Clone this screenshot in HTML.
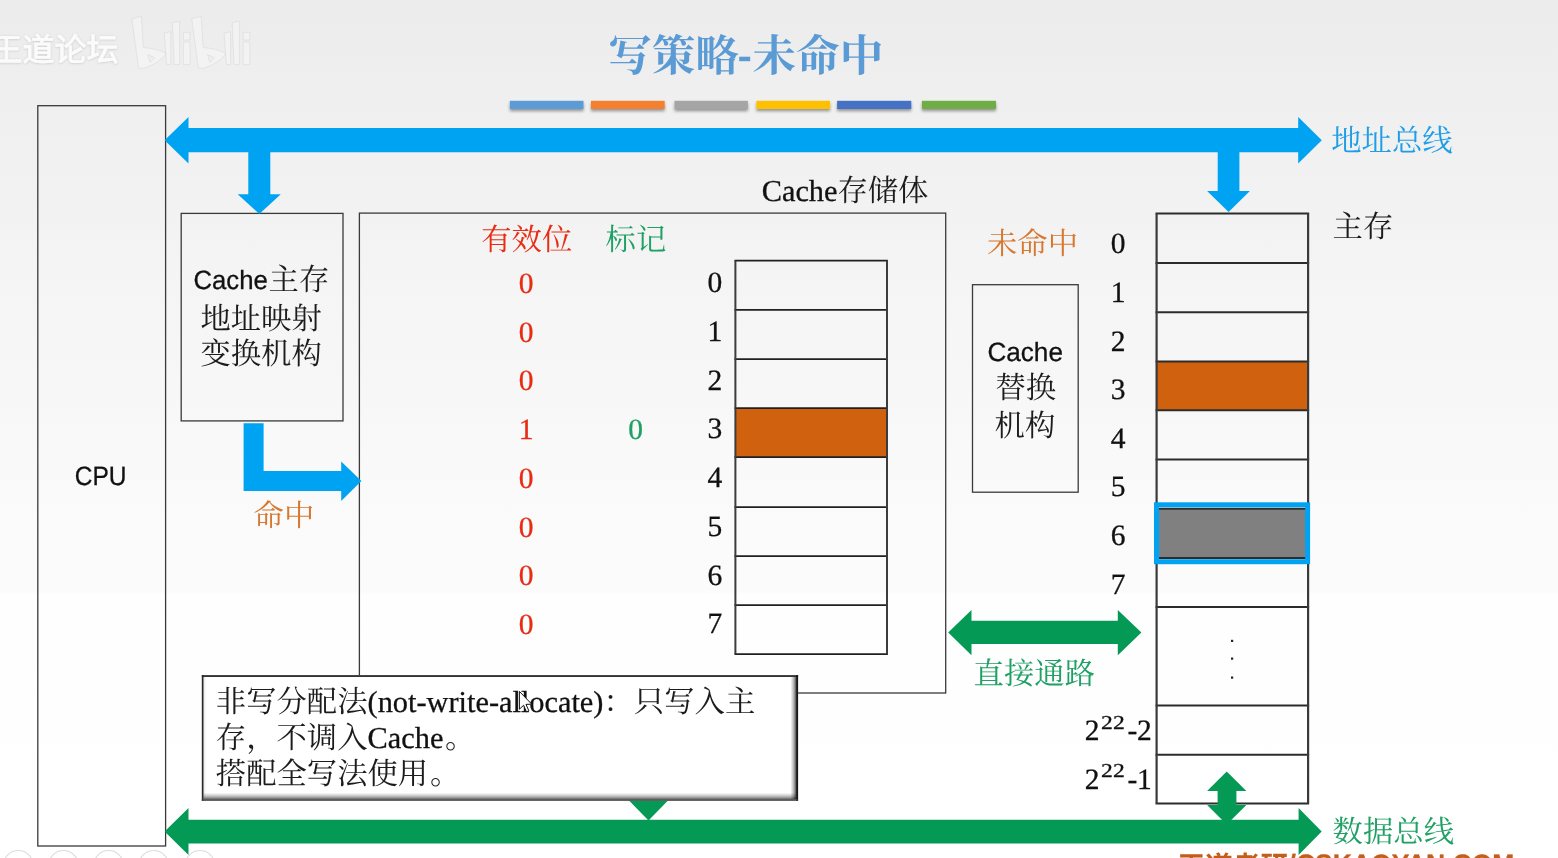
<!DOCTYPE html>
<html lang="zh"><head><meta charset="utf-8"><title>写策略-未命中</title><style>
html,body{margin:0;padding:0}
body{width:1558px;height:858px;overflow:hidden;position:relative;
background:linear-gradient(180deg,#ebebeb 0px,#ececec 15px,#eeeeee 60px,#f0f0f0 125px,#f3f3f3 235px,#f5f5f5 290px,#f7f7f7 385px,#f9f9f9 450px,#fbfbfb 545px,#fbfbfb 591px,#fefefe 594px,#ffffff 858px);
font-family:"Liberation Serif",serif;text-rendering:geometricPrecision}
svg{position:absolute;left:0;top:0}
#L{position:absolute;left:0;top:0;width:1558px;height:858px;overflow:hidden;filter:blur(.45px)}
text{stroke-width:.3px;white-space:pre;text-rendering:geometricPrecision}
.s{font-family:"Liberation Serif",serif;text-rendering:geometricPrecision}
.a{font-family:"Liberation Sans",sans-serif}
.c{font-family:"Liberation Serif","Noto Serif CJK SC",serif;text-rendering:geometricPrecision}
.g{font-family:"Liberation Sans","Noto Sans CJK SC",sans-serif}
.h{position:absolute;line-height:1;white-space:pre;color:transparent;font-family:"Liberation Serif",serif;text-rendering:geometricPrecision}
</style></head>
<body>
<div id="L">
<svg width="1558" height="858" viewBox="0 0 1558 858">
<defs>
<filter id="sh" x="-10%" y="-50%" width="120%" height="250%"><feDropShadow dx="0" dy="2.2" stdDeviation="1.4" flood-color="#000" flood-opacity=".38"/></filter>
<filter id="wm" x="-5%" y="-20%" width="110%" height="140%"><feDropShadow dx="0" dy="0.5" stdDeviation="1.2" flood-color="#000" flood-opacity=".16"/></filter>
<linearGradient id="bevB" x1="0" y1="0" x2="0" y2="1"><stop offset="0" stop-color="#000" stop-opacity="0"/><stop offset=".947" stop-color="#000" stop-opacity="0"/><stop offset=".975" stop-color="#000" stop-opacity=".25"/><stop offset="1" stop-color="#000" stop-opacity=".6"/></linearGradient>
<linearGradient id="bevR" x1="0" y1="0" x2="1" y2="0"><stop offset="0" stop-color="#000" stop-opacity=".10"/><stop offset=".005" stop-color="#000" stop-opacity="0"/><stop offset=".9905" stop-color="#000" stop-opacity="0"/><stop offset=".996" stop-color="#000" stop-opacity=".3"/><stop offset="1" stop-color="#000" stop-opacity=".7"/></linearGradient>
</defs>
<text x="608.20" y="70.60" class="c" font-size="43.6" font-weight="bold" fill="#5B9BD5">写策略</text>
<rect x="739.2" y="56.7" width="11.0" height="4.5" fill="#5B9BD5"/>
<text x="752.60" y="70.60" class="c" font-size="43.6" font-weight="bold" fill="#5B9BD5">未命中</text>
<rect x="509.8" y="100.8" width="73.7" height="8.2" fill="#5B9BD5" filter="url(#sh)"/>
<rect x="591.0" y="100.8" width="73.7" height="8.2" fill="#F3802F" filter="url(#sh)"/>
<rect x="674.5" y="100.8" width="73.4" height="8.2" fill="#A5A5A5" filter="url(#sh)"/>
<rect x="756.4" y="100.8" width="73.7" height="8.2" fill="#FFC000" filter="url(#sh)"/>
<rect x="837.1" y="100.8" width="74.2" height="8.2" fill="#4472C4" filter="url(#sh)"/>
<rect x="921.9" y="100.8" width="74.1" height="8.2" fill="#70AD47" filter="url(#sh)"/>
<g filter="url(#wm)">
<text x="-9.40" y="61.00" class="g" font-size="32" fill="#fbfbfb" stroke="#fbfbfb" style="stroke-width:.7px">王道论坛</text>
</g>
<path d="M131.9 18.6 L141.4 16.4 L143.4 47.6 Q157.0 48.4 166.4 53.6 Q159.0 63.4 144.0 68.2 L138.6 68.2 Z M147.6 54.6 L154.6 57.6 L150.2 62.4 Z M164.2 33.2 L170.8 31.6 L170.8 64.6 L166.6 64.6 Z M172.4 22.6 L179.6 21.2 L179.6 64.6 L174.2 64.6 Z M183.4 32.4 H190.0 V40 H183.4 Z M183.4 42 H190.0 V64.6 H183.4 Z M191.7 18.6 L201.2 16.4 L203.2 47.6 Q216.8 48.4 226.2 53.6 Q218.8 63.4 203.8 68.2 L198.4 68.2 Z M207.4 54.6 L214.4 57.6 L210.0 62.4 Z M224.0 33.2 L230.6 31.6 L230.6 64.6 L226.4 64.6 Z M232.2 22.6 L239.4 21.2 L239.4 64.6 L234.0 64.6 Z M243.2 32.4 H249.8 V40 H243.2 Z M243.2 42 H249.8 V64.6 H243.2 Z" fill="#ffffff" fill-opacity=".30" fill-rule="evenodd" stroke="#d2d2d2" stroke-opacity=".75" stroke-width=".6"/>
<rect x="37.80" y="105.70" width="127.80" height="740.30" fill="none" stroke="#3a3a3a" stroke-width="1.30" />
<rect x="181.20" y="213.40" width="161.80" height="207.50" fill="none" stroke="#3a3a3a" stroke-width="1.30" />
<rect x="359.40" y="213.10" width="586.30" height="479.90" fill="none" stroke="#3a3a3a" stroke-width="1.30" />
<rect x="972.50" y="284.70" width="105.70" height="207.50" fill="none" stroke="#3a3a3a" stroke-width="1.30" />
<polygon fill="#049A55" points="627.5,799.0 669.5,799.0 648.5,820.6"/>
<rect x="735.4" y="408.0" width="151.6" height="49.1" fill="#CF610F"/>
<line x1="734.50" y1="260.60" x2="887.90" y2="260.60" stroke="#202020" stroke-width="1.80"/>
<line x1="734.50" y1="309.80" x2="887.90" y2="309.80" stroke="#202020" stroke-width="1.80"/>
<line x1="734.50" y1="359.20" x2="887.90" y2="359.20" stroke="#202020" stroke-width="1.80"/>
<line x1="734.50" y1="408.10" x2="887.90" y2="408.10" stroke="#202020" stroke-width="1.80"/>
<line x1="734.50" y1="457.20" x2="887.90" y2="457.20" stroke="#202020" stroke-width="1.80"/>
<line x1="734.50" y1="507.10" x2="887.90" y2="507.10" stroke="#202020" stroke-width="1.80"/>
<line x1="734.50" y1="556.10" x2="887.90" y2="556.10" stroke="#202020" stroke-width="1.80"/>
<line x1="734.50" y1="605.10" x2="887.90" y2="605.10" stroke="#202020" stroke-width="1.80"/>
<line x1="734.50" y1="654.20" x2="887.90" y2="654.20" stroke="#202020" stroke-width="1.80"/>
<line x1="735.40" y1="260.50" x2="735.40" y2="654.10" stroke="#3c3c3c" stroke-width="2.00"/>
<line x1="887.00" y1="260.50" x2="887.00" y2="654.10" stroke="#3c3c3c" stroke-width="2.00"/>
<rect x="1156.6" y="361.2" width="151.5" height="48.8" fill="#CF610F"/>
<rect x="1156.6" y="508.6" width="151.5" height="49.3" fill="#808080"/>
<line x1="1155.60" y1="213.50" x2="1309.10" y2="213.50" stroke="#2c2c2c" stroke-width="2.00"/>
<line x1="1155.60" y1="262.90" x2="1309.10" y2="262.90" stroke="#2c2c2c" stroke-width="2.00"/>
<line x1="1155.60" y1="312.20" x2="1309.10" y2="312.20" stroke="#2c2c2c" stroke-width="2.00"/>
<line x1="1155.60" y1="361.40" x2="1309.10" y2="361.40" stroke="#2c2c2c" stroke-width="2.00"/>
<line x1="1155.60" y1="410.20" x2="1309.10" y2="410.20" stroke="#2c2c2c" stroke-width="2.00"/>
<line x1="1155.60" y1="459.60" x2="1309.10" y2="459.60" stroke="#2c2c2c" stroke-width="2.00"/>
<line x1="1155.60" y1="508.80" x2="1309.10" y2="508.80" stroke="#2c2c2c" stroke-width="2.00"/>
<line x1="1155.60" y1="558.10" x2="1309.10" y2="558.10" stroke="#2c2c2c" stroke-width="2.00"/>
<line x1="1155.60" y1="607.00" x2="1309.10" y2="607.00" stroke="#2c2c2c" stroke-width="2.00"/>
<line x1="1155.60" y1="705.40" x2="1309.10" y2="705.40" stroke="#2c2c2c" stroke-width="2.00"/>
<line x1="1155.60" y1="754.80" x2="1309.10" y2="754.80" stroke="#2c2c2c" stroke-width="2.00"/>
<line x1="1155.60" y1="803.60" x2="1309.10" y2="803.60" stroke="#2c2c2c" stroke-width="2.00"/>
<line x1="1156.60" y1="213.30" x2="1156.60" y2="803.40" stroke="#3a3a3a" stroke-width="2.20"/>
<line x1="1308.10" y1="213.30" x2="1308.10" y2="803.40" stroke="#3a3a3a" stroke-width="2.20"/>
<rect x="1156.50" y="504.80" width="151.10" height="56.90" fill="none" stroke="#00A2F2" stroke-width="5.00" />
<rect x="1231.0" y="639.8" width="2.2" height="2.2" fill="#222"/>
<rect x="1231.0" y="657.5" width="2.2" height="2.2" fill="#222"/>
<rect x="1231.0" y="676.5" width="2.2" height="2.2" fill="#222"/>
<polygon fill="#00A2F2" points="164.6,140.2 188.5,117.0 188.5,128.1 1298.2,128.1 1298.2,117.0 1321.8,140.2 1298.2,163.5 1298.2,152.2 188.5,152.2 188.5,163.5"/>
<polygon fill="#00A2F2" points="248.3,150.0 270.3,150.0 270.3,194.2 280.8,194.2 259.3,214.0 237.7,194.2 248.3,194.2"/>
<polygon fill="#00A2F2" points="1217.7,150.0 1239.4,150.0 1239.4,190.9 1249.9,190.9 1228.6,211.9 1207.1,190.9 1217.7,190.9"/>
<polygon fill="#00A2F2" points="243.6,423.3 263.6,423.3 263.6,470.9 341.2,470.9 341.2,461.6 361.4,481.1 341.2,500.9 341.2,491.1 243.6,491.1"/>
<polygon fill="#049A55" points="948.2,632.5 971.5,610.0 971.5,620.8 1117.8,620.8 1117.8,610.0 1141.4,632.5 1117.8,655.2 1117.8,644.0 971.5,644.0 971.5,655.2"/>
<polygon fill="#049A55" points="164.6,831.4 188.5,807.9 188.5,819.7 1298.6,819.7 1298.6,807.9 1321.7,831.4 1298.6,855.0 1298.6,843.5 188.5,843.5 188.5,855.0"/>
<polygon fill="#049A55" points="1226.7,771.6 1246.4,790.9 1236.4,790.9 1236.4,804.9 1246.4,804.9 1226.7,824.5 1207.1,804.9 1217.6,804.9 1217.6,790.9 1207.1,790.9"/>
<text x="1331.20" y="151.10" class="c" font-size="30.35" fill="#1E9EE6">地址总线</text>
<text x="1332.60" y="841.90" class="c" font-size="30.35" fill="#1FA064">数据总线</text>
<text x="1332.60" y="237.20" class="c" font-size="30.35" fill="#1c1c1c">主存</text>
<text x="481.20" y="250.40" class="c" font-size="30.35" fill="#E82C14">有效位</text>
<text x="605.60" y="250.40" class="c" font-size="30.35" fill="#1FA064">标记</text>
<text x="987.00" y="253.80" class="c" font-size="30.35" fill="#D67830">未命中</text>
<text x="253.60" y="526.40" class="c" font-size="30.35" fill="#D67830">命中</text>
<text x="973.60" y="684.20" class="c" font-size="30.35" fill="#1FA064">直接通路</text>
<text x="761.70" y="200.70" class="s" font-size="30.35" fill="#111" stroke="#111">Cache</text>
<text x="837.40" y="201.40" class="c" font-size="30.35" fill="#1c1c1c">存储体</text>
<text transform="translate(193.40 289.20) scale(0.975 1)" class="a" font-size="26.40" fill="#111" stroke="#111">Cache</text>
<text x="268.60" y="290.40" class="c" font-size="30.35" fill="#1c1c1c">主存</text>
<text x="200.40" y="329.20" class="c" font-size="30.35" fill="#1c1c1c">地址映射</text>
<text x="200.40" y="364.20" class="c" font-size="30.35" fill="#1c1c1c">变换机构</text>
<text transform="translate(74.70 485.40) scale(0.930 1)" class="a" font-size="26.40" fill="#111" stroke="#111">CPU</text>
<text transform="translate(987.40 360.70) scale(0.990 1)" class="a" font-size="26.40" fill="#111" stroke="#111">Cache</text>
<text x="995.40" y="398.00" class="c" font-size="30.35" fill="#1c1c1c">替换</text>
<text x="994.60" y="435.60" class="c" font-size="30.35" fill="#1c1c1c">机构</text>
<text x="714.90" y="292.20" class="s" font-size="29.50" fill="#111" stroke="#111" text-anchor="middle">0</text>
<text x="1118.20" y="253.20" class="s" font-size="29.50" fill="#111" stroke="#111" text-anchor="middle">0</text>
<text x="526.00" y="293.00" class="s" font-size="29.50" fill="#E82C14" stroke="#E82C14" text-anchor="middle">0</text>
<text x="714.90" y="340.92" class="s" font-size="29.50" fill="#111" stroke="#111" text-anchor="middle">1</text>
<text x="1118.20" y="301.85" class="s" font-size="29.50" fill="#111" stroke="#111" text-anchor="middle">1</text>
<text x="526.00" y="341.72" class="s" font-size="29.50" fill="#E82C14" stroke="#E82C14" text-anchor="middle">0</text>
<text x="714.90" y="389.64" class="s" font-size="29.50" fill="#111" stroke="#111" text-anchor="middle">2</text>
<text x="1118.20" y="350.50" class="s" font-size="29.50" fill="#111" stroke="#111" text-anchor="middle">2</text>
<text x="526.00" y="390.44" class="s" font-size="29.50" fill="#E82C14" stroke="#E82C14" text-anchor="middle">0</text>
<text x="714.90" y="438.36" class="s" font-size="29.50" fill="#111" stroke="#111" text-anchor="middle">3</text>
<text x="1118.20" y="399.15" class="s" font-size="29.50" fill="#111" stroke="#111" text-anchor="middle">3</text>
<text x="526.00" y="439.16" class="s" font-size="29.50" fill="#E82C14" stroke="#E82C14" text-anchor="middle">1</text>
<text x="714.90" y="487.08" class="s" font-size="29.50" fill="#111" stroke="#111" text-anchor="middle">4</text>
<text x="1118.20" y="447.80" class="s" font-size="29.50" fill="#111" stroke="#111" text-anchor="middle">4</text>
<text x="526.00" y="487.88" class="s" font-size="29.50" fill="#E82C14" stroke="#E82C14" text-anchor="middle">0</text>
<text x="714.90" y="535.80" class="s" font-size="29.50" fill="#111" stroke="#111" text-anchor="middle">5</text>
<text x="1118.20" y="496.45" class="s" font-size="29.50" fill="#111" stroke="#111" text-anchor="middle">5</text>
<text x="526.00" y="536.60" class="s" font-size="29.50" fill="#E82C14" stroke="#E82C14" text-anchor="middle">0</text>
<text x="714.90" y="584.52" class="s" font-size="29.50" fill="#111" stroke="#111" text-anchor="middle">6</text>
<text x="1118.20" y="545.10" class="s" font-size="29.50" fill="#111" stroke="#111" text-anchor="middle">6</text>
<text x="526.00" y="585.32" class="s" font-size="29.50" fill="#E82C14" stroke="#E82C14" text-anchor="middle">0</text>
<text x="714.90" y="633.24" class="s" font-size="29.50" fill="#111" stroke="#111" text-anchor="middle">7</text>
<text x="1118.20" y="593.75" class="s" font-size="29.50" fill="#111" stroke="#111" text-anchor="middle">7</text>
<text x="526.00" y="634.04" class="s" font-size="29.50" fill="#E82C14" stroke="#E82C14" text-anchor="middle">0</text>
<text x="635.60" y="439.40" class="s" font-size="29.50" fill="#1FA064" stroke="#1FA064" text-anchor="middle">0</text>
<text x="1084.70" y="740.20" class="s" font-size="29.50" fill="#111" stroke="#111">2</text>
<text transform="translate(1100.90 728.70) scale(1.200 1)" class="s" font-size="19.70" fill="#111" stroke="#111" letter-spacing=".25">22</text>
<text x="1127.40" y="740.20" class="s" font-size="29.50" fill="#111" stroke="#111">-</text>
<text x="1137.10" y="740.20" class="s" font-size="29.50" fill="#111" stroke="#111">2</text>
<text x="1084.70" y="788.70" class="s" font-size="29.50" fill="#111" stroke="#111">2</text>
<text transform="translate(1100.90 777.20) scale(1.200 1)" class="s" font-size="19.70" fill="#111" stroke="#111" letter-spacing=".25">22</text>
<text x="1127.40" y="788.70" class="s" font-size="29.50" fill="#111" stroke="#111">-</text>
<text x="1137.10" y="788.70" class="s" font-size="29.50" fill="#111" stroke="#111">1</text>
<rect x="201.8" y="675.1" width="596.3" height="125.7" fill="#fff"/>
<rect x="203.4" y="676.9" width="592.8" height="122.4" fill="url(#bevB)"/>
<rect x="203.4" y="676.9" width="592.8" height="122.4" fill="url(#bevR)"/>
<rect x="201.8" y="675.1" width="596.3" height="1.9" fill="#333"/>
<rect x="201.8" y="675.1" width="1.7" height="125.7" fill="#2a2a2a"/>
<rect x="796.1" y="675.1" width="2.0" height="125.7" fill="#161616"/>
<rect x="201.8" y="799.2" width="596.3" height="1.6" fill="#404040"/>
<text x="215.80" y="712.40" class="c" font-size="30.35" fill="#1c1c1c">非写分配法</text>
<text x="367.55" y="712.40" class="s" font-size="30.35" fill="#111" stroke="#111">(not-write-allocate)</text>
<text x="603.52" y="712.40" class="c" font-size="30.35" fill="#1c1c1c">：只写入主</text>
<text x="215.80" y="748.40" class="c" font-size="30.35" fill="#1c1c1c">存，不调入</text>
<text x="367.55" y="748.40" class="s" font-size="30.35" fill="#111" stroke="#111">Cache</text>
<text x="445.03" y="748.40" class="c" font-size="30.35" fill="#1c1c1c">。</text>
<text x="215.80" y="784.20" class="c" font-size="30.35" fill="#1c1c1c">搭配全写法使用</text>
<text x="430.05" y="784.20" class="c" font-size="30.35" fill="#1c1c1c">。</text>
<text x="1177.40" y="876.30" class="g" font-size="27.7" font-weight="bold" fill="#C25E1A">王道考研</text>
<text x="1288.60" y="872.50" class="a" font-size="26.50" fill="#C25E1A" stroke="#C25E1A" font-weight="bold">/CSKAOYAN.COM</text>
<circle cx="18.3" cy="865.2" r="14.7" fill="none" stroke="#dcdcdc" stroke-width="1.2"/>
<circle cx="63.5" cy="865.2" r="14.7" fill="none" stroke="#dcdcdc" stroke-width="1.2"/>
<circle cx="108.6" cy="865.2" r="14.7" fill="none" stroke="#dcdcdc" stroke-width="1.2"/>
<circle cx="153.7" cy="865.2" r="14.7" fill="none" stroke="#dcdcdc" stroke-width="1.2"/>
<circle cx="200.0" cy="865.2" r="14.7" fill="none" stroke="#dcdcdc" stroke-width="1.2"/>
</svg>
<div class="h" style="left:608.2px;top:32.2px;font-size:43.6px">写策略</div>
<div class="h" style="left:739.0px;top:32px;font-size:43px">-</div>
<div class="h" style="left:752.6px;top:32.2px;font-size:43.6px">未命中</div>
<div class="h" style="left:-9.4px;top:32.8px;font-size:32.0px">王道论坛</div>
<div class="h" style="left:1331.2px;top:124.4px;font-size:30.4px">地址总线</div>
<div class="h" style="left:1332.6px;top:815.2px;font-size:30.4px">数据总线</div>
<div class="h" style="left:1332.6px;top:210.5px;font-size:30.4px">主存</div>
<div class="h" style="left:481.2px;top:223.7px;font-size:30.4px">有效位</div>
<div class="h" style="left:605.6px;top:223.7px;font-size:30.4px">标记</div>
<div class="h" style="left:987.0px;top:227.1px;font-size:30.4px">未命中</div>
<div class="h" style="left:253.6px;top:499.7px;font-size:30.4px">命中</div>
<div class="h" style="left:973.6px;top:657.5px;font-size:30.4px">直接通路</div>
<div class="h" style="left:837.4px;top:174.7px;font-size:30.4px">存储体</div>
<div class="h" style="left:268.6px;top:263.7px;font-size:30.4px">主存</div>
<div class="h" style="left:200.4px;top:302.5px;font-size:30.4px">地址映射</div>
<div class="h" style="left:200.4px;top:337.5px;font-size:30.4px">变换机构</div>
<div class="h" style="left:995.4px;top:371.3px;font-size:30.4px">替换</div>
<div class="h" style="left:994.6px;top:408.9px;font-size:30.4px">机构</div>
<div class="h" style="left:215.8px;top:685.7px;font-size:30.4px">非写分配法</div>
<div class="h" style="left:603.5px;top:685.7px;font-size:30.4px">：只写入主</div>
<div class="h" style="left:215.8px;top:721.7px;font-size:30.4px">存，不调入</div>
<div class="h" style="left:445.0px;top:721.7px;font-size:30.4px">。</div>
<div class="h" style="left:215.8px;top:757.5px;font-size:30.4px">搭配全写法使用</div>
<div class="h" style="left:430.1px;top:757.5px;font-size:30.4px">。</div>
<div class="h" style="left:1177.4px;top:851.9px;font-size:27.7px">王道考研</div>
<svg width="1558" height="858" viewBox="0 0 1558 858" style="pointer-events:none">
<path transform="translate(519.4 691.4) scale(1.1)" d="M0 0 L0 16.2 L3.8 12.6 L6.4 18.6 L8.6 17.6 L6.0 11.8 L11.2 11.6 Z" fill="#fff" stroke="#111" stroke-width=".9" stroke-linejoin="miter"/>
</svg>
</div>
</body></html>
